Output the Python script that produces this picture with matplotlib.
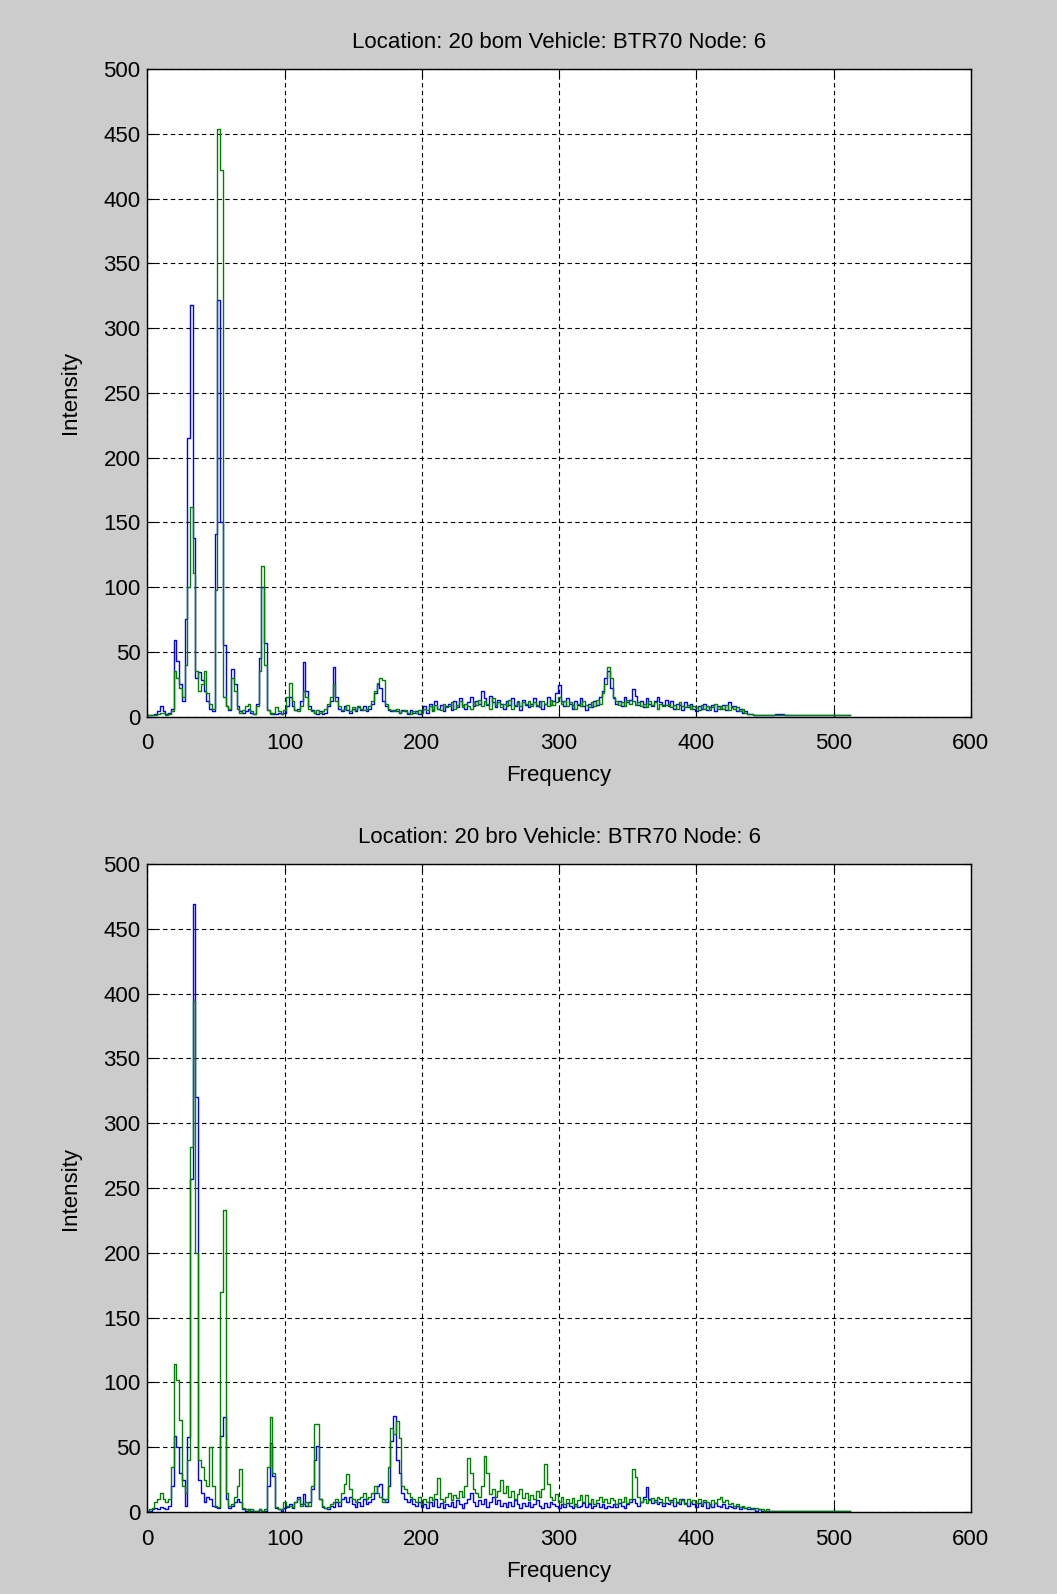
import matplotlib
matplotlib.use("Agg")
import matplotlib.pyplot as plt

# frequency bins (step 2 up to 458, then sparse tail)
freq = list(range(0, 460, 2)) + [470, 490, 512]

# top plot: "bom"
bom_blue = [1, 1, 1, 2, 4, 8, 4, 2, 3, 6,
            59, 43, 25, 12, 75, 215, 318, 138, 30, 34,
            28, 20, 12, 6, 4, 141, 322, 150, 55, 8,
            5, 37, 25, 8, 4, 3, 4, 6, 3, 2,
            10, 45, 100, 57, 5, 3, 2, 2, 3, 2,
            3, 8, 15, 8, 5, 6, 12, 42, 20, 8,
            5, 3, 2, 4, 2, 3, 8, 12, 38, 15,
            6, 4, 8, 5, 3, 6, 4, 7, 5, 8,
            4, 6, 10, 18, 25, 22, 12, 8, 5, 4,
            5, 4, 3, 5, 4, 2, 5, 3, 4, 2,
            4, 8, 3, 10, 5, 12, 6, 9, 4, 8,
            10, 5, 12, 7, 14, 9, 6, 11, 15, 8,
            12, 10, 20, 14, 9, 16, 11, 7, 13, 10,
            6, 12, 9, 14, 8, 11, 5, 13, 9, 7,
            10, 14, 8, 12, 6, 10, 15, 9, 12, 18,
            24, 12, 8, 14, 10, 6, 12, 9, 14, 8,
            5, 10, 7, 12, 9, 15, 20, 30, 35, 22,
            14, 10, 12, 8, 15, 11, 13, 21, 16, 9,
            12, 7, 14, 10, 8, 12, 15, 11, 9, 13,
            8, 12, 6, 10, 9, 5, 11, 7, 10, 6,
            4, 8, 6, 10, 5, 7, 9, 4, 8, 6,
            9, 5, 11, 7, 8, 4, 6, 3, 4, 2,
            2, 1, 1, 1, 1, 1, 1, 1, 1, 2,
            1, 1, 1]
bom_green = [1, 1, 1, 1, 2, 3, 3, 1, 2, 4,
             35, 30, 22, 15, 40, 100, 162, 111, 35, 20,
             25, 35, 18, 10, 6, 98, 454, 422, 15, 8,
             6, 30, 20, 6, 3, 5, 8, 10, 4, 2,
             8, 35, 116, 40, 5, 2, 3, 7, 4, 2,
             5, 15, 26, 12, 5, 4, 8, 20, 15, 6,
             4, 3, 5, 3, 4, 6, 10, 15, 25, 12,
             8, 5, 6, 9, 4, 7, 5, 8, 6, 5,
             6, 8, 12, 20, 26, 30, 28, 10, 6, 5,
             4, 6, 3, 4, 5, 3, 2, 4, 3, 5,
             3, 6, 5, 8, 4, 9, 6, 5, 10, 7,
             8, 11, 6, 9, 12, 7, 10, 8, 6, 11,
             9, 13, 8, 12, 10, 6, 14, 9, 11, 7,
             10, 8, 13, 6, 9, 12, 8, 11, 10, 12,
             8, 11, 9, 7, 12, 10, 8, 13, 9, 11,
             15, 10, 12, 8, 11, 9, 6, 10, 8, 12,
             9, 7, 11, 8, 13, 10, 18, 25, 38, 30,
             15, 12, 9, 11, 8, 13, 10, 12, 9, 11,
             8, 10, 7, 12, 9, 11, 6, 10, 8, 9,
             10, 7, 9, 6, 11, 8, 7, 9, 6, 8,
             7, 5, 9, 6, 8, 5, 7, 10, 6, 8,
             6, 9, 5, 8, 6, 7, 4, 6, 3, 2,
             2, 1, 1, 1, 1, 1, 1, 1, 1, 1,
             1, 1, 1]

# bottom plot: "bro"
bro_blue = [1, 1, 2, 3, 2, 4, 3, 2, 5, 20,
            59, 50, 30, 25, 5, 58, 257, 469, 320, 25,
            15, 8, 12, 10, 5, 4, 3, 59, 73, 10,
            3, 5, 8, 10, 8, 2, 1, 2, 1, 1,
            1, 2, 1, 1, 20, 53, 28, 3, 2, 1,
            3, 4, 6, 3, 8, 12, 6, 14, 5, 8,
            18, 40, 51, 10, 4, 3, 2, 5, 4, 8,
            5, 10, 12, 8, 12, 6, 4, 8, 5, 10,
            6, 8, 10, 15, 20, 22, 10, 8, 20, 55,
            74, 40, 30, 15, 10, 8, 10, 6, 5, 8,
            4, 6, 3, 8, 5, 10, 4, 7, 3, 6,
            5, 8, 4, 9, 6, 3, 7, 10, 15, 8,
            5, 9, 6, 10, 4, 8, 12, 6, 9, 5,
            7, 4, 8, 5, 9, 6, 3, 7, 5, 8,
            4, 6, 9, 5, 3, 7, 4, 8, 6, 5,
            3, 6, 4, 7, 5, 3, 6, 4, 5, 7,
            4, 6, 3, 5, 7, 4, 6, 3, 5, 4,
            6, 4, 7, 5, 3, 6, 8, 10, 7, 5,
            8, 12, 19, 10, 7, 9, 6, 8, 5, 7,
            6, 9, 5, 8, 6, 10, 7, 5, 8, 6,
            4, 7, 5, 8, 3, 6, 4, 7, 5, 4,
            6, 3, 5, 4, 3, 5, 2, 4, 3, 2,
            2, 3, 1, 2, 1, 1, 1, 1, 1, 1,
            1, 1, 1]
bro_green = [1, 2, 3, 8, 10, 15, 10, 8, 10, 35,
             114, 102, 71, 20, 15, 40, 282, 394, 200, 40,
             35, 25, 20, 50, 20, 5, 4, 170, 233, 15,
             5, 6, 12, 20, 33, 3, 2, 1, 2, 1,
             1, 2, 1, 2, 35, 73, 30, 4, 2, 2,
             8, 5, 5, 4, 8, 10, 5, 6, 8, 5,
             20, 68, 68, 10, 5, 3, 4, 6, 8, 10,
             8, 15, 22, 29, 18, 10, 8, 10, 12, 15,
             10, 12, 15, 20, 15, 12, 8, 10, 35, 65,
             60, 70, 57, 20, 18, 15, 12, 10, 8, 12,
             6, 10, 8, 12, 9, 14, 26, 10, 8, 12,
             15, 9, 13, 11, 16, 12, 20, 42, 30, 18,
             15, 12, 20, 43, 30, 14, 18, 12, 16, 25,
             15, 20, 12, 16, 10, 14, 18, 11, 15, 9,
             13, 10, 16, 12, 18, 37, 22, 12, 9, 14,
             8, 12, 6, 10, 7, 11, 5, 9, 13, 8,
             13, 7, 10, 6, 9, 12, 8, 10, 7, 11,
             9, 6, 10, 8, 12, 7, 10, 33, 27, 12,
             8, 10, 7, 9, 11, 8, 12, 10, 7, 12,
             9, 8, 11, 7, 10, 9, 6, 10, 8, 9,
             7, 10, 6, 9, 8, 5, 9, 7, 10, 12,
             8, 9, 6, 7, 5, 6, 4, 5, 3, 4,
             3, 2, 3, 2, 2, 1, 2, 1, 1, 1,
             1, 1, 1]

titles = ["Location: 20 bom Vehicle: BTR70 Node: 6",
          "Location: 20 bro Vehicle: BTR70 Node: 6"]

plt.rcParams['font.family'] = ['Liberation Sans', 'DejaVu Sans']

fig = plt.figure(figsize=(10.57, 15.94), dpi=100, facecolor="#cccccc")
ax1 = fig.add_axes([0.1395, 0.5505, 0.779, 0.4062])
ax2 = fig.add_axes([0.1395, 0.0514, 0.779, 0.4066])

for ax, blue, green, title in [(ax1, bom_blue, bom_green, titles[0]),
                               (ax2, bro_blue, bro_green, titles[1])]:
    ax.plot(freq, blue, color=(0, 0, 1), lw=1.0, drawstyle="steps-mid")
    ax.plot(freq, green, color=(0, 0.5, 0), lw=1.0, drawstyle="steps-mid")
    ax.set_xlim(0, 600)
    ax.set_ylim(0, 500)
    ax.set_xticks(range(0, 601, 100))
    ax.set_yticks(range(0, 501, 50))
    ax.grid(True, color="black", linestyle=(0, (4, 3)), lw=0.8)
    ax.tick_params(direction="in", top=True, right=True, labelsize=16, length=6, pad=5)
    ax.tick_params(axis="x", pad=12)
    for s in ax.spines.values():
        s.set_linewidth(1.0)
    ax.set_title(title, fontsize=16, pad=15)
    ax.set_xlabel("Frequency", fontsize=16, labelpad=8)
    ax.set_ylabel("Intensity", fontsize=16, labelpad=16)

fig.savefig("out.png", dpi=100, facecolor=fig.get_facecolor())
